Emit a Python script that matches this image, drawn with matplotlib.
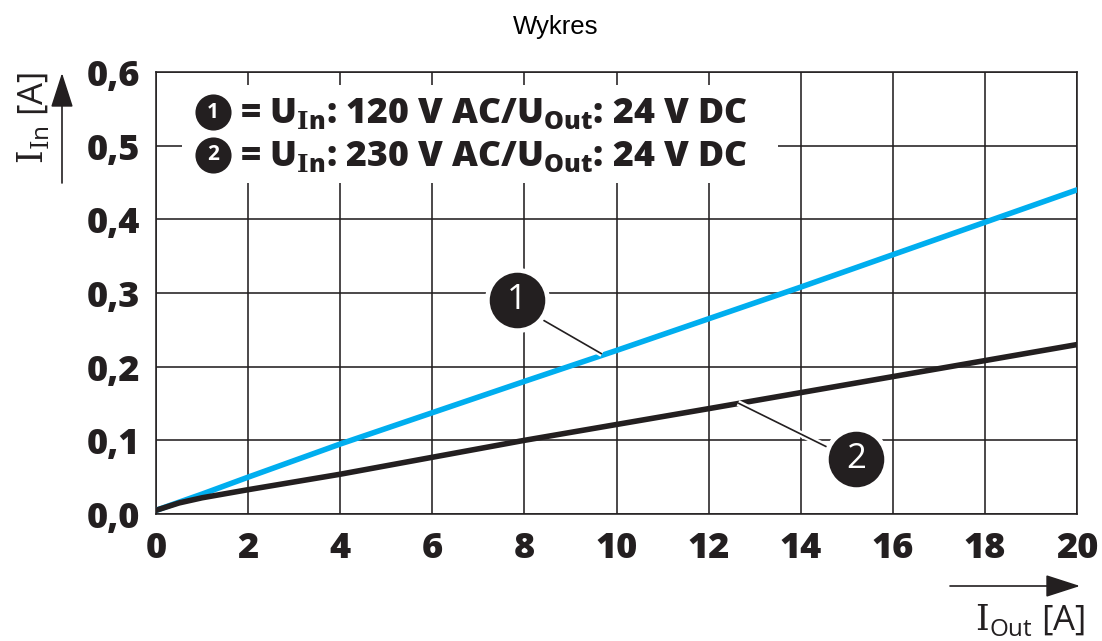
#!/usr/bin/env python3
import matplotlib
matplotlib.use("Agg")
import matplotlib.pyplot as plt
import matplotlib.patheffects as pe
from matplotlib.patches import Rectangle

W, H = 1102, 641
INK = "#231f20"
BLUE = "#00aeef"

plt.rcParams["font.family"] = "Open Sans"
plt.rcParams["mathtext.fontset"] = "custom"
plt.rcParams["mathtext.rm"] = "Open Sans"
plt.rcParams["mathtext.bf"] = "Open Sans:weight=800"
plt.rcParams["mathtext.cal"] = "DejaVu Serif"
plt.rcParams["mathtext.bfit"] = "DejaVu Serif:bold"

# values
x_blue = [0, 1, 2, 4, 8, 10, 14, 20]
y_blue = [0.005, 0.027, 0.05, 0.095, 0.18, 0.222, 0.308, 0.44]
x_black = [0, 0.5, 1, 2, 4, 8, 12, 20]
y_black = [0.005, 0.015, 0.022, 0.033, 0.054, 0.1, 0.143, 0.23]

x_ticks = list(range(0, 21, 2))
y_ticks = [0.0, 0.1, 0.2, 0.3, 0.4, 0.5, 0.6]
y_tick_labels = ["0,0", "0,1", "0,2", "0,3", "0,4", "0,5", "0,6"]

legend_rows = [
    ("1", r"= U$_{\mathbfit{I}\mathbf{n}}$: 120 V AC/U$_{\mathbf{Out}}$: 24 V DC"),
    ("2", r"= U$_{\mathbfit{I}\mathbf{n}}$: 230 V AC/U$_{\mathbf{Out}}$: 24 V DC"),
]


def fig_xy(px, py):
    # reference pixels to figure fraction
    return px / W, 1 - py / H


def data_xy(px, py):
    return (px - 156) / (1077 - 156) * 20, (514 - py) / (514 - 72) * 0.6


fig = plt.figure(figsize=(W / 100, H / 100), dpi=100)
ax = fig.add_axes([156 / W, 1 - 514 / H, (1077 - 156) / W, (514 - 72) / H])
ax.set_xlim(0, 20)
ax.set_ylim(0, 0.6)
for s in ax.spines.values():
    s.set_linewidth(1.15)
    s.set_color(INK)
ax.set_xticks(x_ticks)
ax.set_yticks(y_ticks)
ax.set_yticklabels([])
ax.set_xticklabels([])
ax.tick_params(length=0)
ax.grid(True, color=INK, lw=1.15)
ax.set_axisbelow(True)

for xt in x_ticks:
    fig.text(*fig_xy(156 + xt * 46.05, 549), str(xt), ha="center", va="center",
             fontsize=26, fontweight=800, color=INK)
for yt, lab in zip(y_ticks, y_tick_labels):
    fig.text(*fig_xy(140, 519 - yt * 736.7), lab, ha="right", va="center",
             fontsize=26, fontweight=800, color=INK)

fig.text(*fig_xy(556, 27), "Wykres", ha="center", va="center", fontsize=18.5,
         family="Liberation Sans", color="black")

ax.plot(x_blue, y_blue, color=BLUE, lw=4, zorder=3, solid_capstyle="round")
ax.plot(x_black, y_black, color=INK, lw=4, zorder=4, solid_capstyle="round")

# white box behind the legend text
x0, y1 = data_xy(182, 85)
x1, y0 = data_xy(778, 183)
ax.add_patch(Rectangle((x0, y0), x1 - x0, y1 - y0, fc="white", ec="none", zorder=2))

for (num, row), py in zip(legend_rows, [112, 155]):
    mx, my = data_xy(213, py)
    ax.plot([mx], [my], "o", ms=26, color=INK, mec="none", zorder=6)
    ax.text(mx, my, num, color="white", ha="center", va="center", fontsize=15,
            fontweight="bold", zorder=7)
    tx, ty = data_xy(240, py + 2)
    ax.text(tx, ty, row, color=INK, ha="left", va="center", fontsize=25.7,
            fontweight=800, zorder=7)

# numbered callouts with leader lines
halo = [pe.withStroke(linewidth=4.5, foreground="white")]
callouts = [("1", (517, 300), (543, 320), (602, 354)),
            ("2", (856, 459), (827, 447), (738, 403))]
for num, c, a, b in callouts:
    (xa, ya), (xb, yb) = data_xy(*a), data_xy(*b)
    ax.plot([xa, xb], [ya, yb], color=INK, lw=1.2, zorder=5, path_effects=halo,
            solid_capstyle="butt")
    cx, cy = data_xy(*c)
    ax.plot([cx], [cy], "o", ms=47, color="white", mec="none", zorder=5)
    ax.plot([cx], [cy], "o", ms=40, color=INK, mec="none", zorder=6)
    ax.text(cx, cy, num, color="white", ha="center", va="center", fontsize=25, zorder=7)

# axis arrows and labels sit outside the axes
arrow = dict(arrowstyle="-|>,head_length=1.55,head_width=0.5", color=INK, lw=1.2,
             shrinkA=0, shrinkB=0, mutation_scale=14)
fig.add_artist(plt.Annotation("", xy=fig_xy(62, 73), xytext=fig_xy(62, 183),
                              xycoords="figure fraction", textcoords="figure fraction",
                              arrowprops=arrow))
fig.add_artist(plt.Annotation("", xy=fig_xy(1080, 586), xytext=fig_xy(950, 586),
                              xycoords="figure fraction", textcoords="figure fraction",
                              arrowprops=arrow))

fig.text(*fig_xy(33, 118), r"$\mathcal{I}_{\mathcal{I}\mathrm{n}}$ [A]", rotation=90,
         ha="center", va="center", fontsize=25, color=INK)
fig.text(*fig_xy(1030, 620), r"$\mathcal{I}_{\mathrm{Out}}$ [A]", ha="center", va="center",
         fontsize=25, color=INK)

fig.savefig("out.png", dpi=100)
